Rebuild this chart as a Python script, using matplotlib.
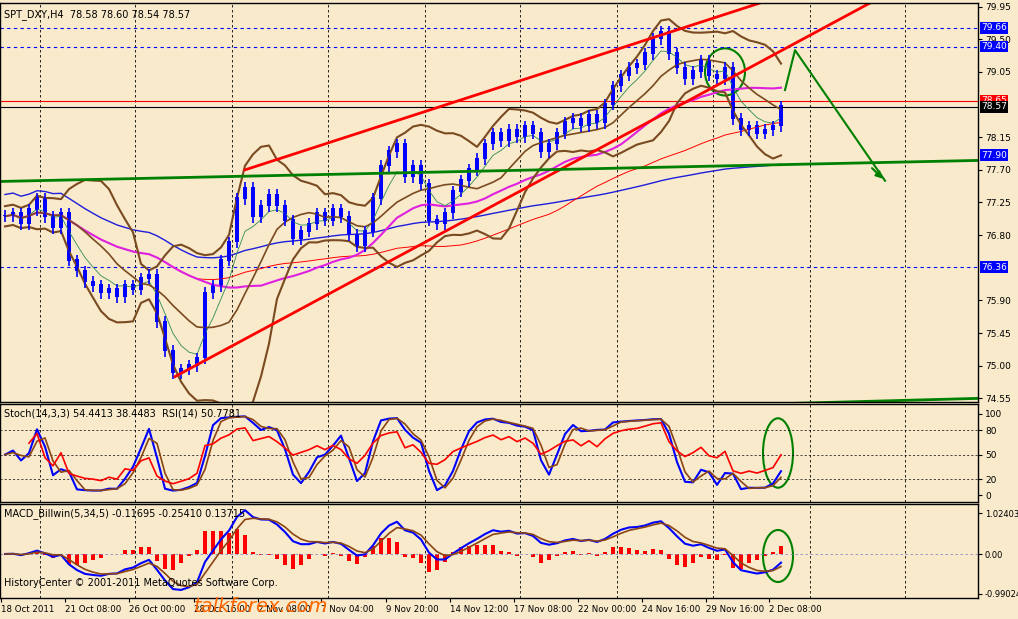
import matplotlib
matplotlib.use("Agg")
import matplotlib.pyplot as plt
import numpy as np
import pandas as pd
from matplotlib.patches import Ellipse

closes = [77.06,77.10,76.95,77.15,77.30,77.05,76.90,77.10,76.45,76.30,
          76.15,76.10,76.00,76.05,75.95,76.10,76.05,76.20,76.25,75.60,
          75.20,74.90,74.95,75.00,75.10,76.00,76.10,76.45,76.70,77.30,
          77.45,77.05,77.20,77.35,77.20,77.00,76.75,76.85,76.95,77.10,
          77.00,77.15,77.05,76.80,76.65,76.85,77.30,77.75,77.95,78.05,
          77.60,77.75,77.50,77.00,76.95,77.10,77.40,77.55,77.70,77.85,
          78.05,78.20,78.10,78.25,78.15,78.30,78.20,77.95,78.05,78.20,
          78.35,78.40,78.30,78.45,78.35,78.60,78.85,79.00,79.10,79.15,
          79.30,79.50,79.60,79.30,79.10,78.95,79.05,79.20,79.00,78.95,
          79.10,78.40,78.25,78.30,78.20,78.25,78.30,78.57]
xlabels = ["18 Oct 2011","21 Oct 08:00","26 Oct 00:00","28 Oct 16:00","2 Nov 08:00",
           "7 Nov 04:00","9 Nov 20:00","14 Nov 12:00","17 Nov 08:00","22 Nov 00:00",
           "24 Nov 16:00","29 Nov 16:00","2 Dec 08:00"]
xlabel_px = [1,65,129,194,258,321,386,450,514,578,642,706,769]
vgrid_px = [40,135,232,328,425,520,617,713,810,905]
price_ticks = [79.95,79.50,79.05,78.15,77.70,77.25,76.80,75.90,75.45,75.00,74.55]
hlevels = [79.66,79.40,76.36]
red_upper = [(245,77.70),(760,80.00)]
red_lower = [(175,74.85),(870,80.00)]
green_h = [(0,77.54),(978,77.83)]
green_low = [(790,74.48),(978,74.55)]
green_path = [(785,78.80),(795,79.35),(885,77.55)]

BG = "#F8EACB"
c = pd.Series(closes)
n = len(c)
x = 5 + 8*np.arange(n)
o = c.shift(1).fillna(c.iloc[0])
h = np.maximum(o, c) + 0.08
l = np.minimum(o, c) - 0.08

fig = plt.figure(figsize=(10.18,6.19), dpi=100, facecolor=BG)
W, H = 1018, 619
def ax_at(top, bot):
    a = fig.add_axes([0, 1-bot/H, 978/W, (bot-top)/H], facecolor=BG)
    a.set_xlim(0, 978)
    a.yaxis.tick_right()
    a.tick_params(axis='y', labelsize=6.5, length=3, pad=2)
    a.set_xticks([])
    for s in a.spines.values(): s.set_color("black"); s.set_linewidth(1)
    for g in vgrid_px: a.axvline(g, color="black", ls=(0,(3,3)), lw=0.6)
    return a

ax = ax_at(3, 402)
ax.set_ylim(74.50, 80.00)
ax.set_yticks(price_ticks)
for lv in hlevels: ax.axhline(lv, color="blue", ls=(0,(3,3)), lw=0.8)
ax.axhline(78.65, color="red", lw=0.8)
ax.axhline(78.57, color="black", lw=0.8)
mid = c.rolling(10, min_periods=1).mean()
sd = c.rolling(10, min_periods=3).std().bfill()
ax.plot(x, c.rolling(100, min_periods=1).mean()+0.3, color="#1E1EDC", lw=1)
ax.plot(x, c.rolling(50, min_periods=1).mean(), color="red", lw=0.7)
ax.plot(x, c.rolling(25, min_periods=1).mean(), color="#E020E0", lw=1.5)
ax.plot(x, c.ewm(span=5).mean(), color="#2E8B57", lw=0.6)
ax.plot(x, mid+1.8*sd, color="#7A4A20", lw=1.5)
ax.plot(x, mid-1.8*sd, color="#7A4A20", lw=1.5)
ax.plot(x, mid, color="#7A4A20", lw=1.2)
ax.vlines(x, l, h, color="blue", lw=1.2)
ax.bar(x, np.abs(c-o)+0.02, bottom=np.minimum(o,c), width=4, color="blue")
for ln, col, w in [(red_upper,"red",2),(red_lower,"red",2),(green_h,"green",2),(green_low,"green",2),(green_path,"green",1.5)]:
    xs, ys = zip(*ln); ax.plot(xs, ys, color=col, lw=w)
ax.annotate("", xy=(885,77.55), xytext=(870,77.75), arrowprops=dict(arrowstyle="-|>", color="green", lw=1.5))
ax.add_patch(Ellipse((725,79.05), 40, 0.65, fill=False, ec="green", lw=1.5))
for val, fc in [(79.66,"blue"),(79.40,"blue"),(78.65,"red"),(78.57,"black"),(77.90,"blue"),(76.36,"blue")]:
    ax.text(981, val, f"{val:.2f}", fontsize=6.5, color="white", va="center", ha="left", clip_on=False,
            bbox=dict(fc=fc, ec="none", pad=1))
ax.text(4, 79.92, "SPT_DXY,H4  78.58 78.60 78.54 78.57", fontsize=7, va="top")

ax2 = ax_at(404, 502)
ax2.set_ylim(-8, 112)
ax2.set_yticks([0,20,50,80,100])
for lv in [20,50,80]: ax2.axhline(lv, color="black", ls=(0,(3,3)), lw=0.5)
hh = pd.Series(h).rolling(7, min_periods=1).max(); ll = pd.Series(l).rolling(7, min_periods=1).min()
k = (100*(c-ll)/(hh-ll)).rolling(2, min_periods=1).mean()
d = k.rolling(2, min_periods=1).mean()
delta = c.diff().fillna(0)
up = delta.clip(lower=0).ewm(alpha=1/7).mean(); dn = (-delta.clip(upper=0)).ewm(alpha=1/7).mean()
rsi = (100 - 100/(1+up/(dn+1e-9))).iloc[3:]
ax2.plot(x, k, color="blue", lw=1.5)
ax2.plot(x, d, color="#8B4513", lw=1.2)
ax2.plot(x[3:], rsi, color="red", lw=1.2)
ax2.add_patch(Ellipse((778,52), 30, 85, fill=False, ec="green", lw=1.5))
ax2.text(4, 106, "Stoch(14,3,3) 54.4413 38.4483  RSI(14) 50.7781", fontsize=7, va="top")

ax3 = ax_at(504, 598)
macd = c.ewm(span=3).mean() - c.ewm(span=17).mean()
sig = macd.ewm(span=3).mean()
hist = macd - sig
ax3.set_ylim(-1.1, 1.25)
ax3.set_yticks([1.02403, 0.0, -0.99024]); ax3.set_yticklabels(["1.02403","0.00","-0.99024"], fontsize=6)
ax3.axhline(0, color="#8888CC", ls=(0,(3,3)), lw=0.6)
ax3.bar(x, hist*2.5, width=4, color="red")
ax3.plot(x, macd*1.2, color="blue", lw=1.5)
ax3.plot(x, sig*1.2, color="#8B4513", lw=1.2)
ax3.add_patch(Ellipse((778,-0.05), 30, 1.3, fill=False, ec="green", lw=1.5))
ax3.text(4, 1.15, "MACD_Billwin(5,34,5) -0.11695 -0.25410 0.13715", fontsize=7, va="top")
ax3.text(4, -0.85, "HistoryCenter © 2001-2011 MetaQuotes Software Corp.", fontsize=7, va="bottom")
ax3.set_xticks(xlabel_px); ax3.set_xticklabels(xlabels, fontsize=6.2, ha="left")
ax3.tick_params(axis='x', length=3, pad=2)
fig.text(0.19, 0.012, "talkforex.com", color="#FF6600", fontsize=14, style="italic")

fig.savefig("out.png", dpi=100, facecolor=BG)
